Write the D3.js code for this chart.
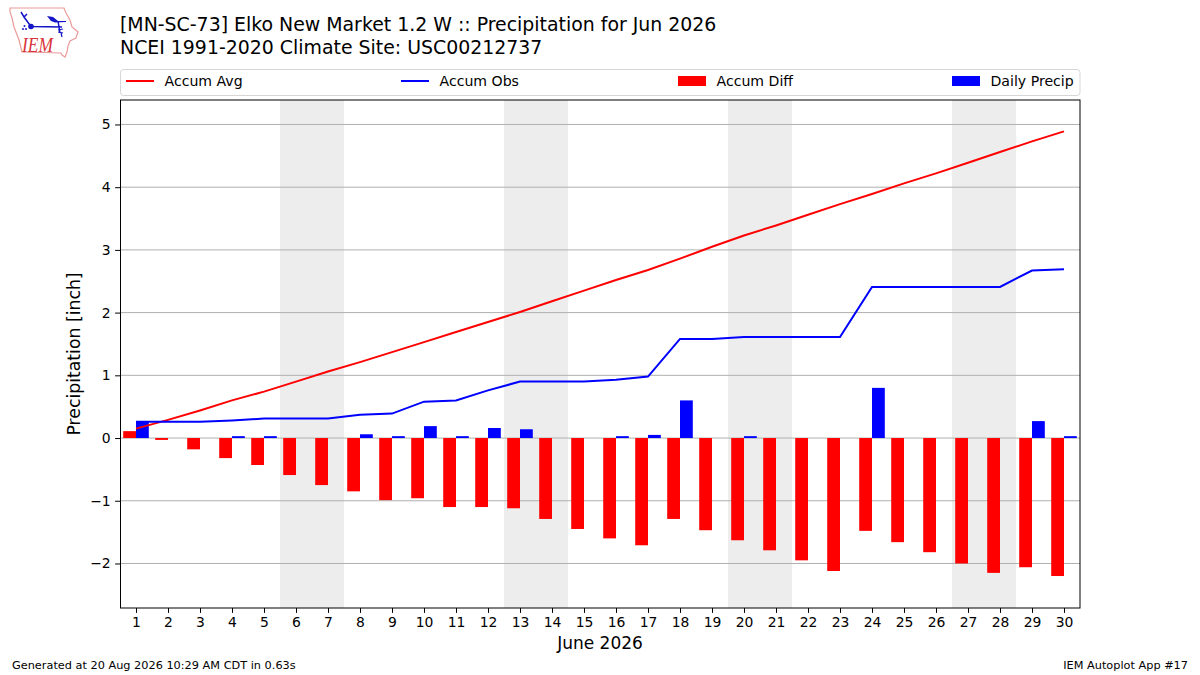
<!DOCTYPE html>
<html>
<head>
<meta charset="utf-8">
<script src="https://cdn.jsdelivr.net/npm/d3@7"></script>
<style>
 html, body { margin: 0; padding: 0; background: #fff; }
 text { font-family: "DejaVu Sans", sans-serif; fill: #000; }
</style>
</head>
<body>
<div id="chart"></div>
<script>
// values
const days = d3.range(1, 31);
const tickLabels = days.map(String);
const accumAvg = [0.15, 0.29, 0.44, 0.60, 0.74, 0.90, 1.06, 1.21, 1.37, 1.53,
  1.69, 1.85, 2.01, 2.18, 2.35, 2.52, 2.68, 2.86, 3.05, 3.23,
  3.39, 3.56, 3.73, 3.89, 4.06, 4.22, 4.39, 4.56, 4.73, 4.89];
const accumObs = [0.26, 0.26, 0.26, 0.28, 0.31, 0.31, 0.31, 0.37, 0.39, 0.58,
  0.60, 0.76, 0.90, 0.90, 0.90, 0.93, 0.98, 1.58, 1.58, 1.61,
  1.61, 1.61, 1.61, 2.41, 2.41, 2.41, 2.41, 2.41, 2.67, 2.69];
const accumDiff = [0.11, -0.03, -0.18, -0.32, -0.43, -0.59, -0.75, -0.85, -0.99, -0.96,
  -1.10, -1.10, -1.12, -1.29, -1.45, -1.60, -1.71, -1.29, -1.47, -1.63,
  -1.79, -1.95, -2.12, -1.48, -1.66, -1.82, -2.00, -2.15, -2.06, -2.20];
const dailyPrecip = [0.26, 0, 0, 0.03, 0.03, 0, 0, 0.06, 0.03, 0.19,
  0.03, 0.16, 0.14, 0, 0, 0.03, 0.05, 0.60, 0, 0.03,
  0, 0, 0, 0.80, 0, 0, 0, 0, 0.27, 0.03];
const weekends = [[5.5, 7.5], [12.5, 14.5], [19.5, 21.5], [26.5, 28.5]];
const yTicks = [-2, -1, 0, 1, 2, 3, 4, 5];
const legendItems = [
  {label: "Accum Avg", color: "red", type: "line"},
  {label: "Accum Obs", color: "blue", type: "line"},
  {label: "Accum Diff", color: "red", type: "bar"},
  {label: "Daily Precip", color: "blue", type: "bar"}
];

const width = 1200, height = 675;
const margin = {top: 100, right: 120, bottom: 67, left: 120};
const plotW = width - margin.left - margin.right,
      plotH = height - margin.top - margin.bottom;

const svg = d3.select("#chart").append("svg")
  .attr("width", width)
  .attr("height", height)
  .style("display", "block");

// Titles
svg.append("text").attr("x", 120).attr("y", 31).style("font-size", "18.9px")
  .text("[MN-SC-73] Elko New Market 1.2 W :: Precipitation for Jun 2026");
svg.append("text").attr("x", 120).attr("y", 54).style("font-size", "18.9px")
  .text("NCEI 1991-2020 Climate Site: USC00212737");

// IEM logo
const logo = svg.append("g");
logo.append("path")
  .attr("d", "M10 8 L64 8 L66 13 L70 20 L72 27 L78 32 L76 38 L70 41 L68 46 L67 52 L65 57 L62 55 L61 53 L22 52 L19 40 L14 27 L12 18 L10 12 Z")
  .attr("fill", "#fff").attr("stroke", "#ea9a9a").attr("stroke-width", 1.2);
logo.append("path").attr("d", "M31 26.5 L62 27 M58 21 L60 33 M31 26.5 L24 17 M21 12 L24 17 L27 14")
  .attr("fill", "none").attr("stroke", "#1414c8").attr("stroke-width", 1.5);
logo.append("circle").attr("cx", 31).attr("cy", 26.5).attr("r", 2.8).attr("fill", "#1414c8");
logo.append("path").attr("d", "M47 16 L53 17 L58 21 L66 21 L66 22 L55 22.5 L51 21 Z").attr("fill", "#1414c8");
logo.append("path").attr("d", "M58 30 L63 29 M58 32 L63 33 M61 33 L62 37").attr("stroke", "#1414c8").attr("stroke-width", 1.2).attr("fill", "none");
logo.selectAll("circle.rain").data([[23, 29], [26, 29], [24.5, 26]]).join("circle")
  .attr("class", "rain").attr("cx", d => d[0]).attr("cy", d => d[1]).attr("r", 1).attr("fill", "#1414c8");
logo.append("text").attr("x", 22).attr("y", 52)
  .attr("textLength", 31).attr("lengthAdjust", "spacingAndGlyphs")
  .style("font-family", "'Liberation Serif', serif").style("font-style", "italic")
  .style("font-size", "22px").style("fill", "#d8343a").text("IEM");

// Scales
const x = d3.scaleLinear().domain([0.5, 30.5]).range([margin.left, margin.left + plotW]);
const y = d3.scaleLinear().domain([-2.71, 5.39]).range([margin.top + plotH, margin.top]);
const barW = x(1.4) - x(1);

// Weekend shading
svg.append("g").selectAll("rect").data(weekends).join("rect")
  .attr("x", d => x(d[0]))
  .attr("y", margin.top)
  .attr("width", d => x(d[1]) - x(d[0]))
  .attr("height", plotH)
  .attr("fill", "#ededed");

// Grid lines
svg.append("g").selectAll("line").data(yTicks).join("line")
  .attr("x1", margin.left)
  .attr("x2", margin.left + plotW)
  .attr("y1", d => y(d))
  .attr("y2", d => y(d))
  .attr("stroke", "#b0b0b0")
  .attr("stroke-width", 1);

// Accum Diff bars sit left of the tick, Daily Precip bars right of it
svg.append("g").selectAll("rect").data(accumDiff).join("rect")
  .attr("x", (d, i) => x(days[i]) - barW)
  .attr("y", d => Math.min(y(d), y(0)))
  .attr("width", barW)
  .attr("height", d => Math.abs(y(d) - y(0)))
  .attr("fill", "red");

svg.append("g").selectAll("rect").data(dailyPrecip).join("rect")
  .attr("x", (d, i) => x(days[i]))
  .attr("y", d => y(d))
  .attr("width", barW)
  .attr("height", d => y(0) - y(d))
  .attr("fill", "blue");

// Lines
const line = d3.line().x((d, i) => x(days[i])).y(d => y(d));
svg.append("path").datum(accumAvg)
  .attr("d", line).attr("fill", "none").attr("stroke", "red").attr("stroke-width", 2);
svg.append("path").datum(accumObs)
  .attr("d", line).attr("fill", "none").attr("stroke", "blue").attr("stroke-width", 2);

// Axes
const xAxis = svg.append("g")
  .attr("transform", `translate(0, ${margin.top + plotH})`)
  .call(d3.axisBottom(x).tickValues(days).tickFormat((d, i) => tickLabels[i]).tickSize(4.9).tickPadding(4.5));
const yAxis = svg.append("g")
  .attr("transform", `translate(${margin.left}, 0)`)
  .call(d3.axisLeft(y).tickValues(yTicks).tickFormat(d => d < 0 ? "\u2212" + Math.abs(d) : d).tickSize(4.9).tickPadding(4.5));
[xAxis, yAxis].forEach(a => {
  a.select(".domain").remove();
  a.selectAll("line").attr("stroke", "#000").attr("stroke-width", 1);
  a.selectAll("text").style("font-size", "13.9px").style("font-family", '"DejaVu Sans"');
});

// Frame
svg.append("rect")
  .attr("x", margin.left + 0.5).attr("y", margin.top)
  .attr("width", plotW - 0.5).attr("height", plotH)
  .attr("fill", "none").attr("stroke", "#000").attr("stroke-width", 1);

// Axis titles
svg.append("text").attr("x", margin.left + plotW / 2).attr("y", 649)
  .attr("text-anchor", "middle").style("font-size", "17px").text("June 2026");
svg.append("text")
  .attr("transform", `translate(80, ${margin.top + plotH / 2}) rotate(-90)`)
  .attr("text-anchor", "middle").style("font-size", "17.3px").text("Precipitation [inch]");

// Legend
const legend = svg.append("g");
legend.append("rect")
  .attr("x", 120.5).attr("y", 69.5).attr("width", 959.5).attr("height", 26)
  .attr("rx", 3).attr("fill", "#fff").attr("stroke", "#d6d6d6").attr("stroke-width", 1);
const legendX = [126, 401, 678, 952];
const keys = legend.selectAll("g").data(legendItems).join("g")
  .attr("transform", (d, i) => `translate(${legendX[i]}, 0)`);
keys.filter(d => d.type === "line").append("line")
  .attr("x1", 0).attr("x2", 28).attr("y1", 81).attr("y2", 81)
  .attr("stroke", d => d.color).attr("stroke-width", 2);
keys.filter(d => d.type === "bar").append("rect")
  .attr("x", 0).attr("y", 76).attr("width", 28).attr("height", 10)
  .attr("fill", d => d.color);
keys.append("text").attr("x", 38.5).attr("y", 86)
  .style("font-size", "14.1px").text(d => d.label);

// Footer
svg.append("text").attr("x", 12).attr("y", 669).style("font-size", "11.3px")
  .text("Generated at 20 Aug 2026 10:29 AM CDT in 0.63s");
svg.append("text").attr("x", 1188).attr("y", 669).attr("text-anchor", "end").style("font-size", "11.3px")
  .text("IEM Autoplot App #17");
</script>
</body>
</html>
